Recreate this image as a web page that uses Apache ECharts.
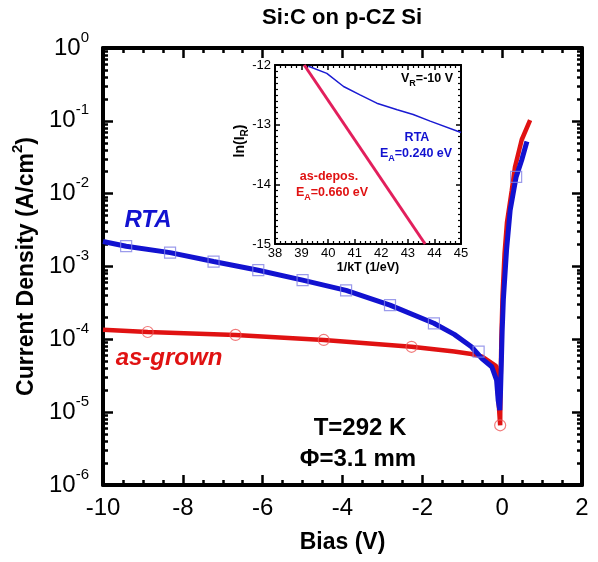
<!DOCTYPE html>
<html><head><meta charset="utf-8">
<script src="https://cdn.jsdelivr.net/npm/echarts@6/dist/echarts.min.js"></script>
<style>html,body{margin:0;padding:0;background:#fff}#c{width:598px;height:562px}</style>
</head><body><div id="c"></div>
<script>
const FONT = 'Liberation Sans, Arial, Helvetica, sans-serif';

// ---- main plot data: Bias (V) vs Current Density (A/cm^2) ----
const rtaV = [-10, -9.42, -8.32, -7.23, -6.11, -5.0, -3.91, -2.81, -1.71, -1.2, -0.77, -0.5, -0.26, -0.14, -0.1, -0.06, -0.04, -0.02, 0.0, 0.03, 0.11, 0.2, 0.35, 0.49, 0.62];
const rtaJ = [2.2e-3, 1.9e-3, 1.55e-3, 1.17e-3, 8.9e-4, 6.5e-4, 4.7e-4, 2.95e-4, 1.66e-4, 1.17e-4, 7.9e-5, 5.4e-5, 4.2e-5, 2.75e-5, 1.45e-5, 1.07e-5, 2.0e-5, 5.0e-5, 1.3e-4, 3.5e-4, 1.7e-3, 5.9e-3, 1.7e-2, 2.9e-2, 5.2e-2];
const asgV = [-10, -8.88, -6.68, -4.47, -2.27, -1.2, -0.77, -0.5, -0.15, -0.05, -0.045, -0.02, 0.01, 0.06, 0.12, 0.24, 0.32, 0.49, 0.7];
const asgJ = [1.35e-4, 1.26e-4, 1.15e-4, 9.8e-5, 7.9e-5, 6.8e-5, 6.3e-5, 5.8e-5, 4.3e-5, 6.6e-6, 1.5e-5, 1.0e-4, 4.0e-4, 1.5e-3, 4.0e-3, 1.1e-2, 2.3e-2, 5.5e-2, 1.02e-1];
const rtaMarkV = [-9.42, -8.32, -7.23, -6.11, -5.0, -3.91, -2.81, -1.71, -0.59, 0.35];
const rtaMarkJ = [1.9e-3, 1.55e-3, 1.17e-3, 8.9e-4, 6.5e-4, 4.7e-4, 2.95e-4, 1.66e-4, 6.8e-5, 1.7e-2];
const asgMarkV = [-8.88, -6.68, -4.47, -2.27, -0.05];
const asgMarkJ = [1.26e-4, 1.15e-4, 9.8e-5, 7.9e-5, 6.6e-6];
const xTicks = [-10, -8, -6, -4, -2, 0, 2];
const yDecades = [-6, -5, -4, -3, -2, -1, 0];

// ---- inset data: 1/kT (1/eV) vs ln(I_R) ----
const insetDepX = [39.1, 43.65];
const insetDepY = [-12, -15];
const insetRtaX = [39.26, 39.95, 40.58, 41.2, 41.83, 42.6, 43.2, 43.84, 45];
const insetRtaY = [-12.02, -12.14, -12.36, -12.5, -12.64, -12.75, -12.83, -12.94, -13.13];
const insetXTicks = [38, 39, 40, 41, 42, 43, 44, 45];
const insetYTicks = [-15, -14, -13, -12];

const zip = (a, b) => a.map((v, i) => [v, b[i]]);
const minorLog = [];
yDecades.slice(0, -1).forEach(d => { for (let k = 2; k <= 9; k++) minorLog.push(d + Math.log10(k)); });

const BLACK = '#000';
const mainTick = { inside: true, length: 10, lineStyle: { color: BLACK, width: 2.5 } };
const mainMinor = { show: true, splitNumber: 4, length: 5, lineStyle: { color: BLACK, width: 2.5 } };
const mainLine = { show: true, onZero: false, lineStyle: { color: BLACK, width: 4 } };
const inTick = { inside: true, length: 5, lineStyle: { color: BLACK, width: 1.5 } };
const inLine = { show: true, onZero: false, lineStyle: { color: BLACK, width: 2 } };

function xAxisMain(pos, labels) {
  return {
    type: 'value', gridIndex: 0, position: pos, min: xTicks[0], max: xTicks[xTicks.length - 1], interval: 2,
    axisLine: mainLine, axisTick: mainTick, minorTick: mainMinor,
    splitLine: { show: false }, minorSplitLine: { show: false },
    axisLabel: { show: labels, fontSize: 24, color: BLACK, fontFamily: FONT, margin: 11 },
    name: labels ? 'Bias (V)' : '', nameLocation: 'middle', nameGap: 46,
    nameTextStyle: { fontSize: 23, fontWeight: 'bold', color: BLACK, fontFamily: FONT }
  };
}
function yAxisMain(pos, labels) {
  return {
    type: 'log', logBase: 10, gridIndex: 0, position: pos, min: 1e-6, max: 1, interval: 1,
    axisLine: mainLine, axisTick: mainTick, splitLine: { show: false },
    axisLabel: {
      show: labels, margin: 14,
      formatter: v => '{b|10}{s|' + Math.round(Math.log10(v)) + '}',
      rich: {
        b: { fontSize: 24, lineHeight: 36, color: BLACK, fontFamily: FONT },
        s: { fontSize: 15, lineHeight: 14, verticalAlign: 'top', color: BLACK, fontFamily: FONT }
      }
    },
    name: labels ? '{t|Current Density (A/cm}{s|2}{t|)}' : '', nameLocation: 'middle', nameGap: 56,
    nameTextStyle: {
      rich: {
        t: { fontSize: 23, fontWeight: 'bold', lineHeight: 32, color: BLACK, fontFamily: FONT },
        s: { fontSize: 15, fontWeight: 'bold', lineHeight: 14, verticalAlign: 'top', color: BLACK, fontFamily: FONT }
      }
    }
  };
}
function yAxisMinor(pos) {
  return {
    type: 'value', gridIndex: 0, position: pos, min: yDecades[0], max: yDecades[yDecades.length - 1],
    axisLine: { show: false, onZero: false }, splitLine: { show: false }, axisLabel: { show: false },
    axisTick: { show: true, inside: true, length: 5, customValues: minorLog, lineStyle: { color: BLACK, width: 2.5 } }
  };
}
function xAxisInset(pos, labels) {
  return {
    type: 'value', gridIndex: 1, position: pos, min: insetXTicks[0], max: insetXTicks[insetXTicks.length - 1], interval: 1,
    axisLine: inLine, axisTick: inTick,
    minorTick: { show: true, splitNumber: 5, length: 3, lineStyle: { color: BLACK, width: 1.2 } },
    splitLine: { show: false }, minorSplitLine: { show: false },
    axisLabel: { show: labels, fontSize: 13, color: BLACK, fontFamily: FONT, margin: 3 },
    name: labels ? '1/kT (1/eV)' : '', nameLocation: 'middle', nameGap: 15,
    nameTextStyle: { fontSize: 12.5, fontWeight: 'bold', color: BLACK, fontFamily: FONT }
  };
}
function yAxisInset(pos, labels) {
  return {
    type: 'value', gridIndex: 1, position: pos, min: insetYTicks[0], max: insetYTicks[insetYTicks.length - 1], interval: 1,
    axisLine: inLine, axisTick: inTick,
    minorTick: { show: true, splitNumber: 10, length: 3, lineStyle: { color: BLACK, width: 1.2 } },
    splitLine: { show: false }, minorSplitLine: { show: false },
    axisLabel: { show: labels, fontSize: 13, color: BLACK, fontFamily: FONT, margin: 4 }
  };
}

function subText(x, y, parts, color, size, extra) {
  const sub = Math.round(size * 0.72);
  const rich = {
    m: { fontSize: size, fontWeight: 'bold', fontFamily: FONT, lineHeight: size + 3, verticalAlign: 'top', fill: color },
    s: { fontSize: sub, fontWeight: 'bold', fontFamily: FONT, lineHeight: sub, verticalAlign: 'bottom', fill: color }
  };
  return Object.assign({
    type: 'text', x: x, y: y, z: 100,
    style: { text: parts, rich: rich, align: 'center', verticalAlign: 'middle', fill: color }
  }, extra || {});
}
function plainText(x, y, text, color, size, italic) {
  return {
    type: 'text', x: x, y: y, z: 100,
    style: { text: text, fill: color, align: 'center', verticalAlign: 'middle',
      font: (italic ? 'italic ' : '') + 'bold ' + size + 'px ' + FONT }
  };
}

const RED = '#e01212';
const BLUE = '#1212d0';

const option = {
  animation: false,
  backgroundColor: '#fff',
  grid: [
    { left: 103, right: 16, top: 48, bottom: 77 },
    { left: 275, top: 65, width: 186, height: 179 }
  ],
  xAxis: [xAxisMain('bottom', true), xAxisMain('top', false), xAxisInset('bottom', true), xAxisInset('top', false)],
  yAxis: [yAxisMain('left', true), yAxisMain('right', false), yAxisMinor('left'), yAxisMinor('right'), yAxisInset('left', true), yAxisInset('right', false)],
  series: [
    { type: 'line', xAxisIndex: 0, yAxisIndex: 0, data: zip(asgV, asgJ), showSymbol: false, symbol: 'none',
      lineStyle: { color: RED, width: 4.5 }, z: 2 },
    { type: 'line', xAxisIndex: 0, yAxisIndex: 0, data: zip(rtaV, rtaJ), showSymbol: false, symbol: 'none',
      lineStyle: { color: BLUE, width: 5 }, z: 3 },
    { type: 'scatter', xAxisIndex: 0, yAxisIndex: 0, data: zip(asgMarkV, asgMarkJ), symbol: 'circle', symbolSize: 11,
      itemStyle: { color: 'rgba(0,0,0,0)', borderColor: '#ee5a5a', borderWidth: 1.2 }, z: 4 },
    { type: 'scatter', xAxisIndex: 0, yAxisIndex: 0, data: zip(rtaMarkV, rtaMarkJ), symbol: 'rect', symbolSize: 11,
      itemStyle: { color: 'rgba(0,0,0,0)', borderColor: '#8282e6', borderWidth: 1.2 }, z: 4 },
    { type: 'line', xAxisIndex: 2, yAxisIndex: 4, data: zip(insetDepX, insetDepY), showSymbol: false, symbol: 'none',
      lineStyle: { color: '#e21f5c', width: 3 }, z: 5 },
    { type: 'line', xAxisIndex: 2, yAxisIndex: 4, data: zip(insetRtaX, insetRtaY), showSymbol: false, symbol: 'none',
      lineStyle: { color: '#1a1ad2', width: 1.5 }, z: 5 }
  ],
  graphic: [
    plainText(342, 18, 'Si:C on p-CZ Si', BLACK, 22, false),
    plainText(148, 220, 'RTA', BLUE, 24, true),
    plainText(169, 358, 'as-grown', RED, 24, true),
    plainText(360, 428, 'T=292 K', BLACK, 24, false),
    plainText(358, 459, 'Φ=3.1 mm', BLACK, 24, false),
    subText(427, 80, '{m|V}{s|R}{m|=-10 V}', BLACK, 12.5),
    plainText(417, 138, 'RTA', BLUE, 12.5, false),
    subText(416, 155, '{m|E}{s|A}{m|=0.240 eV}', BLUE, 12.5),
    plainText(329, 177, 'as-depos.', RED, 12.5, false),
    subText(332, 194, '{m|E}{s|A}{m|=0.660 eV}', RED, 12.5),
    subText(242, 141, '{m|ln(I}{s|R}{m|)}', BLACK, 14, { rotation: Math.PI / 2 })
  ]
};

const chart = echarts.init(document.getElementById('c'), null, { renderer: 'canvas' });
chart.setOption(option);
</script>
</body></html>
